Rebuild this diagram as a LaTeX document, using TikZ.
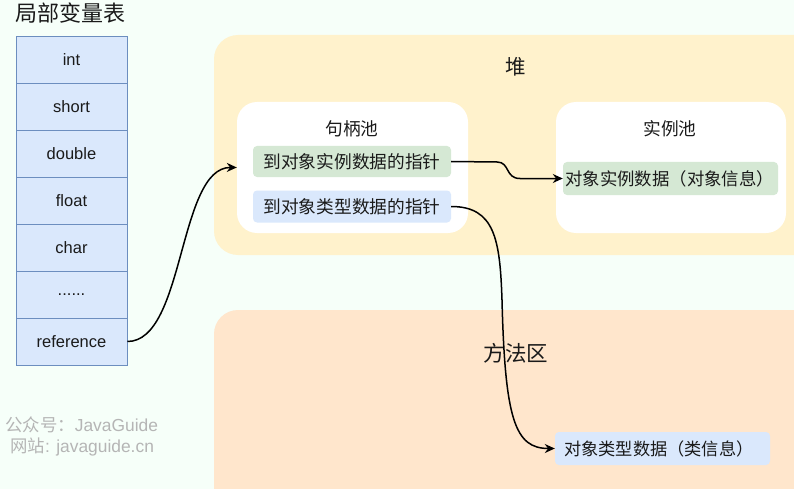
\documentclass[tikz,border=0pt]{standalone}
\usepackage{fontspec}
\setmainfont{Liberation Sans}
\newfontfamily\cjk{Noto Sans CJK SC}
\usetikzlibrary{arrows.meta}
\definecolor{bgc}{HTML}{F6FFF9}
\definecolor{heapc}{HTML}{FFF2CC}
\definecolor{methc}{HTML}{FFE6CC}
\definecolor{greenc}{HTML}{D5E8D4}
\definecolor{bluec}{HTML}{DAE8FC}
\definecolor{bluestroke}{HTML}{6C8EBF}
\definecolor{txt}{HTML}{1A1A1A}
\definecolor{wm}{HTML}{B5B5B5}
\tikzset{
  row/.style={draw=bluestroke, fill=bluec, line width=0.8pt, minimum width=111pt, minimum height=47pt, inner sep=0pt, font=\fontsize{16.5}{19}\selectfont, text=txt},
  pool/.style={fill=white, rounded corners=20pt, inner sep=0pt},
  item/.style={rounded corners=4pt, inner sep=0pt, font=\cjk\fontsize{17.7}{20}\selectfont, text=txt},
  conn/.style={line width=1.5pt, -{Stealth[length=10pt,width=9pt]}},
  region/.style={rounded corners=24pt, inner sep=0pt},
  wmtext/.style={font=\fontsize{17.4}{20}\selectfont, text=wm, anchor=west, inner sep=0pt}
}
\begin{document}
\begin{tikzpicture}[x=1pt,y=-1pt]
\useasboundingbox (0,0) rectangle (794,489);
\fill[bgc] (0,0) rectangle (794,489);
% regions
\fill[heapc, region] (214,35) rectangle (830,255);
\fill[methc, region] (214,310) rectangle (830,530);
\node[font=\cjk\fontsize{20.5}{23}\selectfont, text=txt] (heapt) at (516,67) {堆};
\node[font=\cjk\fontsize{21.5}{24}\selectfont, text=txt] (metht) at (516,353) {方法区};
% title
\node[font=\cjk\fontsize{22}{25}\selectfont, text=txt, anchor=west, inner sep=0pt] (title) at (15,13) {局部变量表};
% table
\node[row] (r1) at (71.5,59.5) {int};
\node[row] (r2) at (71.5,106.5) {short};
\node[row] (r3) at (71.5,153.5) {double};
\node[row] (r4) at (71.5,200.5) {float};
\node[row] (r5) at (71.5,247.5) {char};
\node[row] (r6) at (71.5,294.5) {......};
\node[row] (r7) at (71.5,341.5) {reference};
% handle pool
\node[pool, minimum width=231pt, minimum height=131pt] (hp) at (352.5,167.5) {};
\node[font=\cjk\fontsize{17.7}{20}\selectfont, text=txt] (hpt) at (352,129) {句柄池};
\node[item, fill=greenc, minimum width=198pt, minimum height=31pt] (p1) at (352,161.5) {到对象实例数据的指针};
\node[item, fill=bluec, minimum width=198pt, minimum height=32pt] (p2) at (352,206.5) {到对象类型数据的指针};
% instance pool
\node[pool, minimum width=230pt, minimum height=131pt] (ip) at (671,167.5) {};
\node[font=\cjk\fontsize{17.7}{20}\selectfont, text=txt] (ipt) at (670,129) {实例池};
\node[item, fill=greenc, minimum width=215pt, minimum height=33pt] (io) at (670.5,178.5) {};
\node[font=\cjk\fontsize{17.4}{20}\selectfont, text=txt, anchor=west, inner sep=0pt] (iot) at (565,178.5) {对象实例数据（对象信息）};
% method area item
\node[item, fill=bluec, minimum width=215pt, minimum height=33pt] (mo) at (662.5,448.5) {};
\node[font=\cjk\fontsize{17.2}{20}\selectfont, text=txt, anchor=west, inner sep=0pt] (mot) at (564,448.5) {对象类型数据（类信息）};
% watermark
\node[wmtext] (wm1) at (5,425) {{\cjk 公众号：}JavaGuide};
\node[wmtext] (wm2) at (10,447) {{\cjk 网站}: javaguide.cn};
% connectors
\coordinate (c2a) at (497,162);
\coordinate (c2b) at (520,178.5);
\coordinate (c3a) at (502,300);
\draw[conn] (r7.east) .. controls (185,341.5) and (178,167) .. (hp.west);
\draw[conn] (p1.east) -- (c2a) .. controls (510,162) and (505,178.5) .. (c2b) -- (io.west);
\draw[conn] (p2.east) .. controls (495,206.5) and (500,240) .. (c3a) .. controls (505,420) and (515,448.5) .. (mo.west);
\end{tikzpicture}
\end{document}
